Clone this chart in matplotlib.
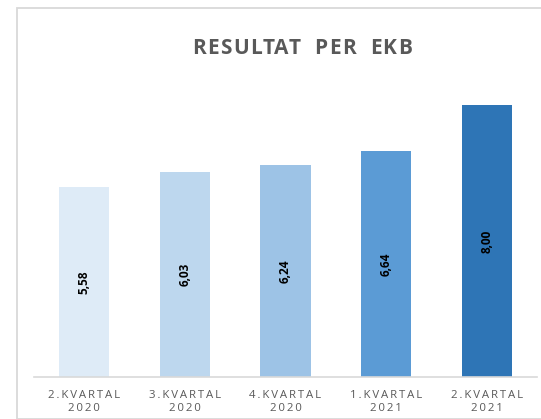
import matplotlib
matplotlib.use("Agg")
import matplotlib.pyplot as plt
from matplotlib.patches import Rectangle

quarters = ["2.KVARTAL", "3.KVARTAL", "4.KVARTAL", "1.KVARTAL", "2.KVARTAL"]
years = ["2020", "2020", "2020", "2021", "2021"]
values = [5.58, 6.03, 6.24, 6.64, 8.00]
colors = ["#DEEBF7", "#BDD7EE", "#9DC3E6", "#5B9BD5", "#2E75B6"]
title = "RESULTAT  PER  EKB"

W, H = 541, 419
fig = plt.figure(figsize=(W / 100, H / 100), dpi=100)
fam = ["Open Sans", "DejaVu Sans"]

# outer border
fig.patches.append(Rectangle((16.5 / W, 0), 1.2, (H - 8.5) / H, transform=fig.transFigure,
                             fill=False, edgecolor="#D9D9D9", linewidth=1.3))

left, right = 34 / W, 537 / W
bottom = 1 - 377 / H
ymax = 9.0
top = 1 - (377 - 34 * ymax) / H
ax = fig.add_axes([left, bottom, right - left, top - bottom])

x = list(range(len(values)))
bars = ax.bar(x, values, width=0.5, color=colors, edgecolor="none")
ax.set_xlim(-0.5, len(values) - 0.5)
ax.set_ylim(0, ymax)

for rect, v in zip(bars, values):
    ax.text(rect.get_x() + rect.get_width() / 2, v / 2, f"{v:.2f}".replace(".", ","),
            rotation=90, ha="center", va="center", fontsize=8.5, fontweight="bold",
            color="black", family=fam)

def spaced(s, sep="\u2009"):
    return sep.join(s)

ax.set_xticks(x)
ax.set_xticklabels([spaced(q) + "\n" + spaced(y) for q, y in zip(quarters, years)],
                   fontsize=8.2, color="#595959", family=fam, linespacing=1.3)
ax.tick_params(axis="x", length=0, pad=9)
ax.set_yticks([])
for s in ["top", "left", "right"]:
    ax.spines[s].set_visible(False)
ax.spines["bottom"].set_color("#D9D9D9")
ax.spines["bottom"].set_linewidth(1.2)

# letter-spaced title
renderer = fig.canvas.get_renderer()
tkw = dict(fontsize=15, fontweight="bold", color="#595959", family=fam, va="center", ha="left")
def txt_width(s):
    t = fig.text(0, 0, s, **tkw)
    w = t.get_window_extent(renderer).width
    t.remove()
    return w

track = 1.2
total = txt_width(title) + track * (len(title) - 1)
x0 = 302 - total / 2
yt = 1 - 48 / H
for i, ch in enumerate(title):
    if ch == " ":
        continue
    pos = txt_width(title[:i + 1]) - txt_width(ch) + track * i
    fig.text((x0 + pos) / W, yt, ch, **tkw)

fig.savefig("out.png", dpi=100)
